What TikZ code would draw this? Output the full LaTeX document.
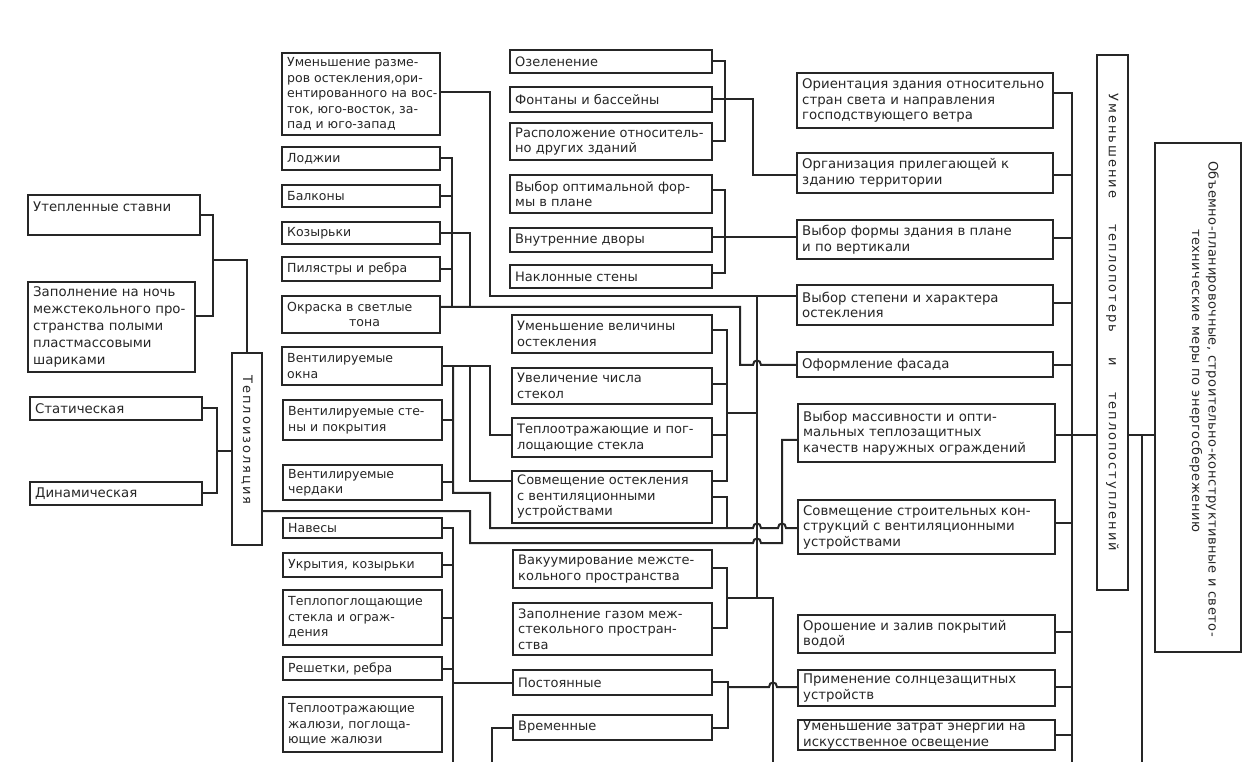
\documentclass[tikz,border=0pt]{standalone}
\usepackage{fontspec}
\setmainfont{DejaVu Sans}
\newfontfamily\widefont[LetterSpace=15]{DejaVu Sans}
\newfontfamily\semiwidefont[LetterSpace=4]{DejaVu Sans}
\definecolor{ink}{gray}{0.15}
\newcommand\boxfont{\fontsize{12.5}{15.5}\selectfont}
% one framed box: name, x1, y1, x2, y2 (pixels, y downwards), text
\newcommand\mybox[6]{%
  \pgfmathsetmacro\bw{#4-#2}\pgfmathsetmacro\bh{#5-#3}%
  \pgfmathsetmacro\bcx{(#2+#4)/2}\pgfmathsetmacro\bcy{(#3+#5)/2}%
  \node[box, minimum width=\bw pt, minimum height=\bh pt] (#1) at (\bcx,\bcy) {};%
  \node[txt] (#1t) at ([xshift=5pt]#1.west) {#6};%
}
\begin{document}
\begin{tikzpicture}[x=1pt,y=-1pt,
  box/.style={draw=ink, line width=2pt, rectangle, inner sep=0pt, outer sep=0pt},
  txt/.style={anchor=west, align=left, inner sep=0pt, text=ink, font=\boxfont},
  rtxt/.style={rotate=-90, inner sep=0pt, text=ink},
  wire/.style={draw=ink, line width=2pt},
]
\useasboundingbox (0,0) rectangle (1259,783);
\fill[white] (0,0) rectangle (1259,783);

% ---- left column: heat insulation measures
\renewcommand\boxfont{\fontsize{13.3}{17}\selectfont}
\mybox{a1}{28}{195}{200}{235}{Утепленные ставни\\\mbox{}}
\mybox{a2}{28}{282}{195}{372}{Заполнение на ночь\\межстекольного про-\\странства полыми\\пластмассовыми\\шариками}
\mybox{a3}{30}{397}{202}{420}{Статическая}
\mybox{a4}{30}{482}{202}{505}{Динамическая}
\node[box, minimum width=30pt, minimum height=192pt] (T) at (247,449) {};
\node[rtxt, font=\widefont\fontsize{13}{16}\selectfont] (Tt) at (247,440) {Теплоизоляция};

% ---- second column
\renewcommand\boxfont{\fontsize{12.5}{15.5}\selectfont}
\mybox{b1}{282}{53}{440}{135}{Уменьшение разме-\\ров остекления,ори-\\ентированного на вос-\\ток, юго-восток, за-\\пад и юго-запад}
\mybox{b2}{282}{147}{440}{170}{Лоджии}
\mybox{b3}{282}{185}{440}{207}{Балконы}
\mybox{b4}{282}{222}{440}{244}{Козырьки}
\mybox{b5}{282}{257}{440}{281}{Пилястры и ребра}
\mybox{b6}{282}{296}{440}{333}{Окраска в светлые\\\hspace*{62pt}тона}
\mybox{b7}{282}{347}{442}{385}{Вентилируемые\\окна}
\mybox{b8}{283}{400}{442}{440}{Вентилируемые сте-\\ны и покрытия}
\mybox{b9}{283}{465}{442}{500}{Вентилируемые\\чердаки}
\mybox{b10}{283}{518}{442}{538}{Навесы}
\mybox{b11}{283}{553}{442}{577}{Укрытия, козырьки}
\mybox{b12}{283}{590}{442}{645}{Теплопоглощающие\\стекла и ограж-\\дения}
\mybox{b13}{283}{657}{442}{680}{Решетки, ребра}
\mybox{b14}{283}{697}{442}{752}{Теплоотражающие\\жалюзи, поглоща-\\ющие жалюзи}

% ---- third column
\renewcommand\boxfont{\fontsize{13}{15.5}\selectfont}
\mybox{c1}{510}{50}{712}{73}{Озеленение}
\mybox{c2}{510}{87}{712}{112}{Фонтаны и бассейны}
\mybox{c3}{510}{123}{712}{160}{Расположение относитель-\\но других зданий}
\mybox{c4}{510}{175}{712}{213}{Выбор оптимальной фор-\\мы в плане}
\mybox{c5}{510}{228}{712}{252}{Внутренние дворы}
\mybox{c6}{510}{265}{712}{288}{Наклонные стены}
\mybox{c7}{512}{315}{712}{353}{Уменьшение величины\\остекления}
\mybox{c8}{512}{368}{712}{404}{Увеличение числа\\стекол}
\mybox{c9}{512}{418}{712}{457}{Теплоотражающие и пог-\\лощающие стекла}
\mybox{c10}{512}{471}{712}{523}{Совмещение остекления\\с вентиляционными\\устройствами}
\mybox{c11}{513}{550}{712}{588}{Вакуумирование межсте-\\кольного пространства}
\mybox{c12}{513}{603}{712}{655}{Заполнение газом меж-\\стекольного простран-\\ства}
\mybox{c13}{513}{670}{712}{695}{Постоянные}
\mybox{c14}{513}{715}{712}{740}{Временные}

% ---- fourth column
\renewcommand\boxfont{\fontsize{13.3}{15.5}\selectfont}
\mybox{f1}{797}{73}{1053}{128}{Ориентация здания относительно\\стран света и направления\\господствующего ветра}
\mybox{f2}{797}{153}{1053}{193}{Организация прилегающей к\\зданию территории}
\mybox{f3}{797}{220}{1053}{259}{Выбор формы здания в плане\\и по вертикали}
\mybox{f4}{797}{285}{1053}{325}{Выбор степени и характера\\остекления}
\mybox{f5}{797}{352}{1053}{377}{Оформление фасада}
\mybox{f6}{798}{404}{1055}{462}{Выбор массивности и опти-\\мальных теплозащитных\\качеств наружных ограждений}
\mybox{f7}{798}{500}{1055}{554}{Совмещение строительных кон-\\струкций с вентиляционными\\устройствами}
\mybox{f8}{798}{615}{1055}{653}{Орошение и залив покрытий\\водой}
\mybox{f9}{798}{670}{1055}{706}{Применение солнцезащитных\\устройств}
\mybox{f10}{798}{720}{1055}{750}{Уменьшение затрат энергии на\\искусственное освещение}

% ---- right: tall boxes
\node[box, minimum width=31pt, minimum height=535pt] (ured) at (1112.5,322.5) {};
\node[rtxt, font=\widefont\fontsize{13}{16}\selectfont] (uredt) at (ured) {Уменьшение\hspace{2em}теплопотерь\hspace{2em}и\hspace{2em}теплопоступлений};
\node[box, minimum width=86pt, minimum height=509pt] (big) at (1198,397.5) {};
\node[rtxt, align=left, font=\semiwidefont\fontsize{13}{16.5}\selectfont] (bigt) at (1204,399) {Объемно-планировочные, строительно-конструктивные и свето-\\\hspace*{68pt}технические меры по энергосбережению};

% ---- connectors: left groups into heat insulation
\coordinate (jA) at (213,260);
\coordinate (jB) at (217,451);
\draw[wire] (a1.east) -| (213,316) -- (a2.east |- 0,316);
\draw[wire] (jA) -| (T.north);
\draw[wire] (a3.east) -| (jB) |- (a4.east);
\draw[wire] (jB) -- (jB -| T.west);

% heat insulation -> massiveness of enclosures
\draw[wire] (T.east |- 0,511) -| (470,543) -- (753,543)
  .. controls (753,537) and (761,537) .. (761,543) -- (782,543) -- (782,440) -- (f6.west |- 0,440);

% ventilated elements
\draw[wire] (b7.east) -| (490,435) -- (c9.west |- 0,435);
\draw[wire] (470,366) |- (c10.west |- 0,481);
\draw[wire] (453,366) |- (490,493) -- (490,528) -- (753,528)
  .. controls (753,522) and (761,522) .. (761,528) -- (778,528)
  .. controls (778,522) and (786,522) .. (786,528) -- (f7.west |- 0,528);
\draw[wire] (b8.east) -- (b8.east -| 453,0);
\draw[wire] (b9.east) -- (b9.east -| 453,0);

% glazing group
\draw[wire] (c7.east |- 0,330) -| (727,481) -- (c10.east |- 0,481);
\draw[wire] (c8.east |- 0,384) -- (727,384);
\draw[wire] (c9.east |- 0,435) -- (727,435);
\draw[wire] (727,413) -- (757,413);
\draw[wire] (c10.east |- 0,497) -| (727,528);

% facade group
\draw[wire] (b1.east |- 0,92) -| (490,296) -- (f4.west |- 0,296);
\draw[wire] (b2.east) -| (452,307);
\draw[wire] (b3.east) -- (b3.east -| 452,0);
\draw[wire] (b5.east) -- (b5.east -| 452,0);
\draw[wire] (b4.east) -| (470,307);
\draw[wire] (b6.east |- 0,307) -- (740,307) -- (740,365) -- (753,365)
  .. controls (753,359) and (761,359) .. (761,365) -- (f5.west |- 0,365);

% site and form groups
\draw[wire] (c1.east) -| (c3.east -| 725,0) -- (c3.east);
\draw[wire] (c2.east) -| (753,175) -- (f2.west |- 0,175);
\draw[wire] (c4.east |- 0,190) -| (725,273) -- (c6.east |- 0,273);
\draw[wire] (c5.east |- 0,237) -- (f3.west |- 0,237);

% glazing trunk and interpane space
\draw[wire] (757,296) -- (757,598);
\draw[wire] (c11.east |- 0,568) -| (727,628) -- (c12.east |- 0,628);
\draw[wire] (727,598) -- (773,598) -- (773,762);

% sun protection
\draw[wire] (c13.east |- 0,682) -| (728,728) -- (c14.east |- 0,728);
\draw[wire] (728,687) -- (769,687)
  .. controls (769,681) and (777,681) .. (777,687) -- (f9.west |- 0,687);
\draw[wire] (b10.east) -| (453,762);
\draw[wire] (b11.east) -- (b11.east -| 453,0);
\draw[wire] (b12.east) -- (b12.east -| 453,0);
\draw[wire] (b13.east) -- (b13.east -| 453,0);
\draw[wire] (453,683) -- (c13.west |- 0,683);
\draw[wire] (c14.west |- 0,728) -| (492,762);

% right trunk
\draw[wire] (f1.east |- 0,93) -| (1072,762);
\foreach \n/\yy in {f2/175, f3/238, f4/303, f5/365, f6/435, f7/523, f8/632, f9/687, f10/735}
  \draw[wire] (\n.east |- 0,\yy) -- (1072,\yy);
\draw[wire] (1072,435) -- (ured.west |- 0,435);
\draw[wire] (ured.east |- 0,435) -- (big.west |- 0,435);
\draw[wire] (1142,435) -- (1142,762);
\end{tikzpicture}
\end{document}
